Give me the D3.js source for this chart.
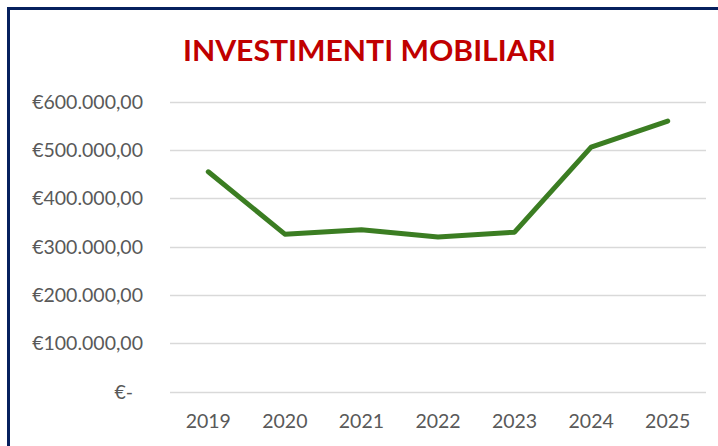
<!DOCTYPE html>
<html><head><meta charset="utf-8">
<script src="https://cdn.jsdelivr.net/npm/d3@7"></script>
<style>body{margin:0;background:#fff}svg{display:block}</style>
</head><body>
<svg id="c" width="718" height="446"></svg>
<script>
const categories = ["2019","2020","2021","2022","2023","2024","2025"];
const values = [455000, 326000, 335000, 320000, 330000, 506000, 560000];
const yTicks = [0, 100000, 200000, 300000, 400000, 500000, 600000];
const title = "INVESTIMENTI MOBILIARI";

const svg = d3.select("#c");
const W = 718, H = 446;
svg.append("rect").attr("width", W).attr("height", H).attr("fill", "#fff");

// border (left + top)
svg.append("path").attr("d", `M8.5,${H} L8.5,8.5 L${W},8.5`)
  .attr("fill","none").attr("stroke","#06205e").attr("stroke-width",3);

const x = d3.scaleBand().domain(categories).range([170, 706]);
const y = d3.scaleLinear().domain([0, 600000]).range([391.7, 101.7]);

const fmt = v => v === 0 ? "€-" : "€" + d3.format(",.2f")(v).replace(/,/g,"X").replace(/\./g,",").replace(/X/g,".");

// gridlines
svg.append("g").selectAll("line").data(yTicks).join("line")
  .attr("x1", 170).attr("x2", 706)
  .attr("y1", d => Math.round(y(d)) + 0.5).attr("y2", d => Math.round(y(d)) + 0.5)
  .attr("stroke", "#d9d9d9").attr("stroke-width", 1.5);

// y labels
svg.append("g").selectAll("text").data(yTicks).join("text")
  .attr("x", d => d === 0 ? 133 : 143)
  .attr("y", d => y(d))
  .attr("dy", "0.36em")
  .attr("text-anchor", "end")
  .attr("font-family", "Lato, 'Open Sans', sans-serif")
  .attr("font-size", 19.5)
  .attr("fill", "#595959")
  .text(fmt);

// x labels
svg.append("g").selectAll("text").data(categories).join("text")
  .attr("x", d => x(d) + x.bandwidth()/2)
  .attr("y", 428)
  .attr("text-anchor", "middle")
  .attr("font-family", "Lato, 'Open Sans', sans-serif")
  .attr("font-size", 19.5)
  .attr("fill", "#595959")
  .text(d => d);

// line
const line = d3.line()
  .x((d,i) => x(categories[i]) + x.bandwidth()/2)
  .y(d => y(d));
svg.append("path").datum(values)
  .attr("d", line)
  .attr("fill","none")
  .attr("stroke","#3b7d22")
  .attr("stroke-width",5)
  .attr("stroke-linejoin","round")
  .attr("stroke-linecap","round");

// title
svg.append("text")
  .attr("x", 369.5).attr("y", 61)
  .attr("text-anchor","middle")
  .attr("font-family","Lato, 'Open Sans', sans-serif")
  .attr("font-weight","bold")
  .attr("font-size", 29)
  .attr("fill","#c00000")
  .attr("textLength", 373)
  .attr("lengthAdjust","spacingAndGlyphs")
  .text(title);
</script>
</body></html>
